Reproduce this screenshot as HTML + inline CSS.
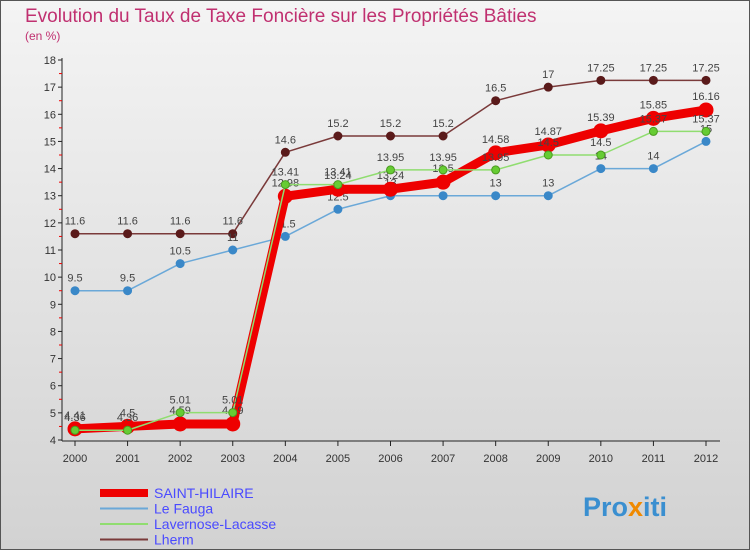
<!DOCTYPE html><html><head><meta charset="utf-8"><style>
body{margin:0;width:750px;height:550px;overflow:hidden;font-family:"Liberation Sans",sans-serif}
</style></head><body>
<svg width="750" height="550" xmlns="http://www.w3.org/2000/svg">
<defs><linearGradient id="bg" x1="0" y1="0" x2="0" y2="1"><stop offset="0" stop-color="#f4f4f4"/><stop offset="1" stop-color="#d2d2d2"/></linearGradient></defs>
<rect x="0.5" y="0.5" width="749" height="549" fill="url(#bg)" stroke="#555"/>
<text x="25" y="22" font-size="19" fill="#c03070">Evolution du Taux de Taxe Foncière sur les Propriétés Bâties</text>
<text x="25" y="40" font-size="12" fill="#c03070">(en %)</text>
<g id="axes"></g><g id="series"></g>
<g id="legend" font-size="14" fill="#4a4aff"></g>
<text x="583" y="516" font-size="27" font-weight="bold" fill="#3a8fd0">Pro<tspan fill="#f08a00">x</tspan>iti</text>
</svg>
<script>
const years=[2000,2001,2002,2003,2004,2005,2006,2007,2008,2009,2010,2011,2012];
const saint=[4.41,4.5,4.59,4.59,12.98,13.24,13.24,13.5,14.58,14.87,15.39,15.85,16.16];
const fauga=[9.5,9.5,10.5,11,11.5,12.5,13,13,13,13,14,14,15];
const lavernose=[4.36,4.36,5.01,5.01,13.41,13.41,13.95,13.95,13.95,14.5,14.5,15.37,15.37];
const lherm=[11.6,11.6,11.6,11.6,14.6,15.2,15.2,15.2,16.5,17,17.25,17.25,17.25];
const yTicks=[4,5,6,7,8,9,10,11,12,13,14,15,16,17,18];
const NS="http://www.w3.org/2000/svg";
const X=i=>75+i*(706-75)/12, Y=v=>440-(v-4)*(380/14);
function mk(t,a,p){const e=document.createElementNS(NS,t);for(const k in a)e.setAttribute(k,a[k]);p.appendChild(e);return e;}
const ax=document.getElementById('axes');
let l=mk('line',{x1:62,y1:58,x2:62,y2:441,stroke:'#222'},ax);


l=mk('line',{x1:62,y1:441,x2:720,y2:441,stroke:'#222'},ax);


yTicks.forEach(v=>{mk('line',{x1:58,x2:62,y1:Y(v),y2:Y(v),stroke:'#222'},ax);
 if(v<18)mk('line',{x1:59,x2:62,y1:Y(v+0.5),y2:Y(v+0.5),stroke:'#e00'},ax);
 const t=mk('text',{x:56,y:Y(v)+4,'font-size':11,'text-anchor':'end',fill:'#333'},ax);t.textContent=v;
 
 });
years.forEach((y,i)=>{mk('line',{x1:X(i),x2:X(i),y1:441,y2:446,stroke:'#222'},ax);
 const t=mk('text',{x:X(i),y:462,'font-size':11,'text-anchor':'middle',fill:'#333'},ax);t.textContent=y;
 
 });
const sg=document.getElementById('series');
function draw(data,name,color,w,r,fill,stroke,dy){
 const g=mk('g',{},sg);
 
 
 mk('polyline',{points:data.map((v,i)=>X(i)+','+Y(v)).join(' '),fill:'none',stroke:color,'stroke-width':w,'stroke-linejoin':'round'},g);
 data.forEach((v,i)=>{const c=mk('circle',{cx:X(i),cy:Y(v),r:r,fill:fill,stroke:stroke},g);
  
  
  const t=mk('text',{x:X(i),y:Y(v)+dy,'font-size':11,'text-anchor':'middle',fill:'#444'},g);t.textContent=v;});
}
draw(lherm,'lherm','#7a3a3a',1.5,4,'#5a1a1a','#5a1a1a',-9);
draw(fauga,'le-fauga','#6aa8d8',1.5,4,'#3a88c8','#3a88c8',-9);
draw(saint,'saint-hilaire','#ee0000',9,7,'#ee0000','#ee0000',-10);
draw(lavernose,'lavernose-lacasse','#90dd70',1.5,4,'#66cc33','#4a9a20',-9);
const lg=document.getElementById('legend');
[['SAINT-HILAIRE','#ee0000',8],['Le Fauga','#6aa8d8',2],['Lavernose-Lacasse','#90dd70',2],['Lherm','#7a3a3a',2]].forEach((d,i)=>{
 const y=493+i*15.5;
 const g=mk('g',{},lg);
 
 
 mk('line',{x1:100,x2:148,y1:y,y2:y,stroke:d[1],'stroke-width':d[2]},g);
 const t=mk('text',{x:154,y:y+5},g);t.textContent=d[0];});
</script>
</body></html>
